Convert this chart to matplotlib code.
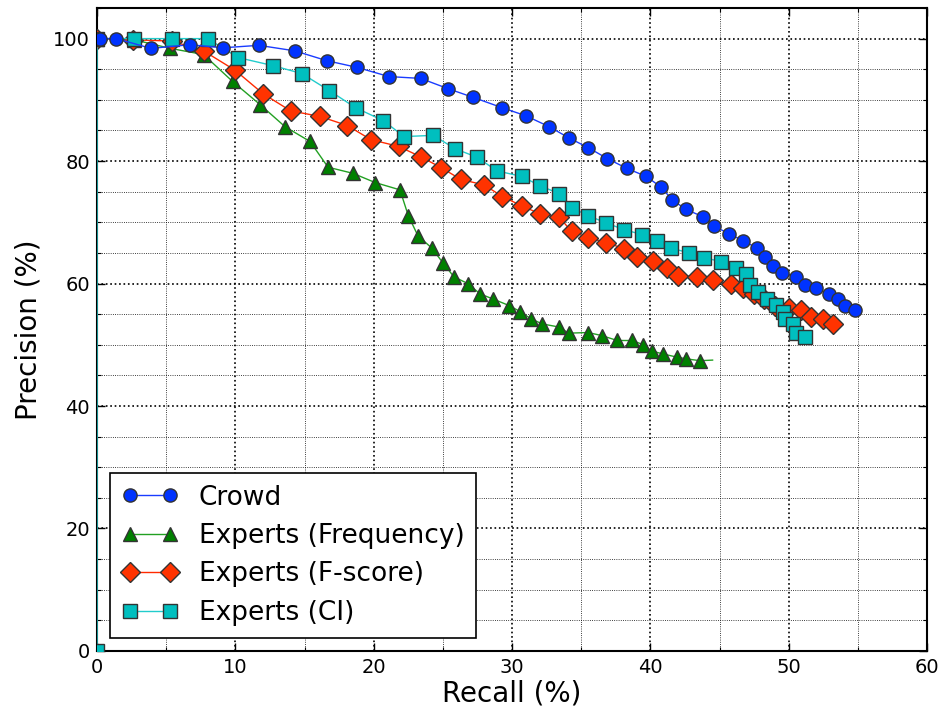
import matplotlib
matplotlib.use("Agg")
import matplotlib.pyplot as plt
from matplotlib.ticker import MultipleLocator

# Crowd
crowd_recall = [0.2, 1.4, 3.9, 6.7, 9.1, 11.7, 14.3, 16.6, 18.8, 21.1, 23.4, 25.4,
                27.2, 29.3, 31.0, 32.7, 34.1, 35.5, 36.9, 38.3, 39.7, 40.8, 41.6,
                42.6, 43.8, 44.6, 45.7, 46.7, 47.7, 48.3, 48.9, 49.5, 50.5, 51.2,
                52.0, 52.9, 53.6, 54.1, 54.8]
crowd_prec = [100, 100, 98.4, 99.0, 98.5, 98.9, 98.0, 96.4, 95.3, 93.8, 93.5, 91.8,
              90.4, 88.7, 87.4, 85.6, 83.8, 82.2, 80.4, 78.8, 77.5, 75.7, 73.6,
              72.1, 70.9, 69.4, 68.1, 67.0, 65.8, 64.4, 62.9, 61.8, 61.1, 59.8,
              59.2, 58.3, 57.5, 56.4, 55.6]

# Experts (Frequency) - last point is the line end (no marker)
freq_recall = [0.0, 2.7, 5.3, 7.7, 9.8, 11.8, 13.6, 15.4, 16.7, 18.5, 20.1, 21.9,
               22.5, 23.2, 24.2, 25.0, 25.8, 26.8, 27.7, 28.6, 29.8, 30.6, 31.4,
               32.2, 33.4, 34.1, 35.5, 36.5, 37.6, 38.7, 39.5, 40.1, 40.9, 41.9,
               42.6, 43.6, 44.5]
freq_prec = [100, 99.8, 98.4, 97.4, 93.0, 89.2, 85.6, 83.2, 79.0, 78.0, 76.5, 75.3,
             71.1, 67.8, 65.8, 63.4, 61.1, 60.0, 58.3, 57.5, 56.4, 55.4, 54.2,
             53.4, 52.9, 51.9, 52.0, 51.5, 50.7, 50.7, 50.0, 49.0, 48.5, 48.0,
             47.7, 47.4, 47.5]

# Experts (F-score)
fscore_recall = [0.0, 2.6, 5.4, 7.7, 10.0, 12.0, 14.0, 16.1, 18.1, 19.8, 21.8, 23.4,
                 24.9, 26.3, 28.0, 29.3, 30.7, 32.0, 33.4, 34.3, 35.5, 36.8, 38.1,
                 39.0, 40.2, 41.2, 42.0, 43.4, 44.5, 45.8, 46.7, 47.5, 48.2, 49.0,
                 50.0, 50.9, 51.6, 52.5, 53.2]
fscore_prec = [100, 99.8, 99.6, 98.0, 94.8, 91.0, 88.2, 87.3, 85.8, 83.5, 82.4, 80.7,
               78.9, 77.0, 76.1, 74.2, 72.7, 71.4, 70.9, 68.5, 67.5, 66.7, 65.7,
               64.4, 63.7, 62.6, 61.3, 61.1, 60.5, 59.9, 59.2, 58.3, 57.4, 56.4,
               56.0, 55.6, 54.6, 54.2, 53.4]

# Experts (CI)
ci_recall = [0.0, 0.0, 2.7, 5.4, 8.0, 10.2, 12.7, 14.8, 16.8, 18.7, 20.7, 22.2,
             24.3, 25.9, 27.5, 28.9, 30.7, 32.0, 33.4, 34.3, 35.5, 36.8, 38.1,
             39.4, 40.5, 41.5, 42.8, 43.9, 45.1, 46.2, 46.9, 47.2, 47.8, 48.4,
             49.1, 49.6, 49.7, 50.3, 50.5, 51.2]
ci_prec = [0, 100, 100, 100, 100, 96.9, 95.6, 94.3, 91.5, 88.7, 86.6, 84.0,
           84.2, 82.0, 80.6, 78.4, 77.5, 76.0, 74.7, 72.4, 71.1, 69.9, 68.8,
           68.0, 67.0, 65.8, 65.0, 64.2, 63.6, 62.6, 61.6, 59.8, 58.7, 57.5,
           56.5, 55.4, 54.2, 53.4, 52.0, 51.3]

plt.rcParams['font.family'] = ['DejaVu Sans']
plt.rcParams['xtick.direction'] = 'in'
plt.rcParams['ytick.direction'] = 'in'
plt.rcParams['xtick.top'] = True
plt.rcParams['ytick.right'] = True

fig = plt.figure(figsize=(9.4, 7.13), dpi=100)
ax = fig.add_axes([0.1032, 0.087, 0.883, 0.9018])

mk = dict(markeredgecolor='#333333', markeredgewidth=1.0, linewidth=1.0)
ax.plot(crowd_recall, crowd_prec, '-o', color='#1a3cff', markerfacecolor='#0033ff',
        markersize=9.5, label='Crowd', zorder=4, **mk)
ax.plot(freq_recall, freq_prec, '-^', color='#22a022', markerfacecolor='#008000',
        markersize=9.5, markevery=slice(0, len(freq_recall) - 1),
        label='Experts (Frequency)', zorder=3, **mk)
ax.plot(fscore_recall, fscore_prec, '-D', color='#ff2a00', markerfacecolor='#ff3300',
        markersize=10, label='Experts (F-score)', zorder=3, **mk)
ax.plot(ci_recall, ci_prec, '-s', color='#22cccc', markerfacecolor='#00bfbf',
        markersize=9.5, label='Experts (CI)', zorder=3, **mk)

ax.set_xlim(0, 60)
ax.set_ylim(0, 105)
ax.xaxis.set_major_locator(MultipleLocator(10))
ax.xaxis.set_minor_locator(MultipleLocator(5))
ax.yaxis.set_major_locator(MultipleLocator(20))
ax.yaxis.set_minor_locator(MultipleLocator(5))
ax.tick_params(which='major', length=6, width=1, labelsize=14, pad=5)
ax.tick_params(which='minor', length=3, width=0.8)
ax.grid(True, which='major', linestyle=':', color='k', linewidth=1.2)
ax.grid(True, which='minor', linestyle=':', color='k', linewidth=0.6)
ax.set_axisbelow(True)
for s in ax.spines.values():
    s.set_linewidth(1.5)

ax.set_xlabel('Recall (%)', fontsize=20, labelpad=2)
ax.set_ylabel('Precision (%)', fontsize=20, labelpad=8)

leg = ax.legend(loc='lower left', fontsize=19, numpoints=2, fancybox=False,
                framealpha=1, edgecolor='k', borderaxespad=0.5, borderpad=0.45,
                handlelength=2.1, labelspacing=0.47, handletextpad=0.8)
leg.get_frame().set_linewidth(1.2)

fig.savefig('out.png', dpi=100, facecolor='white')
